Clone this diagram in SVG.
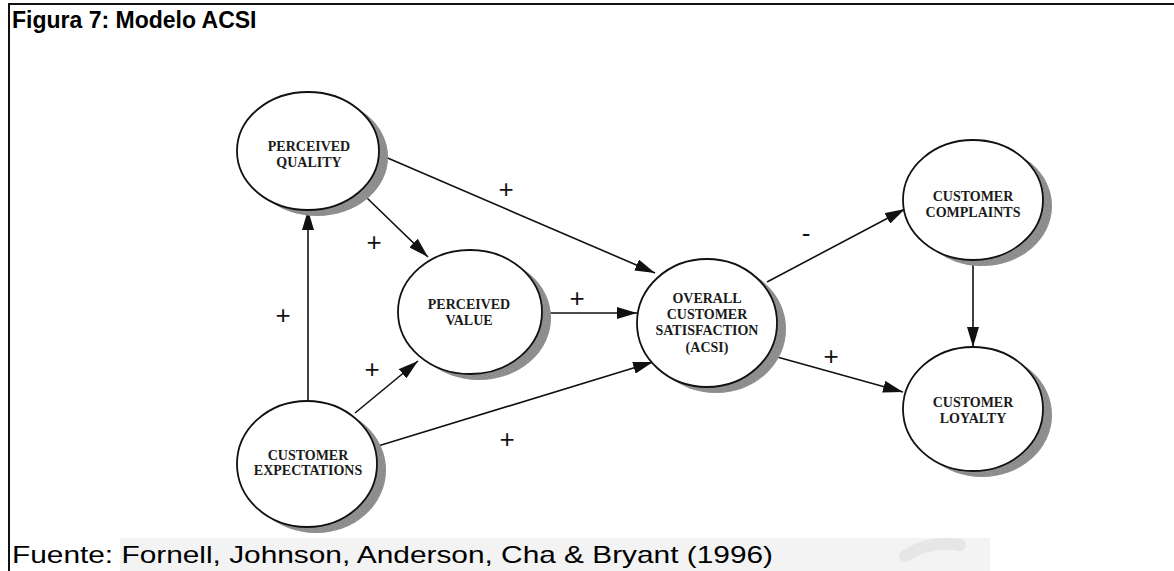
<svg xmlns="http://www.w3.org/2000/svg" width="1174" height="571" viewBox="0 0 1174 571">
  <defs>
    <style>
      .node { fill: #ffffff; stroke: #111111; stroke-width: 1.8; }
      .shade { fill: #7a7a7a; filter: url(#grain); }
      .label { font-family: "Liberation Serif", "Times New Roman", serif; font-weight: bold; font-size: 14px; fill: #1a1a1a; text-anchor: middle; }
      .edge { stroke: #111111; stroke-width: 1.6; fill: none; marker-end: url(#arrow); }
      .sign { font-family: "Liberation Sans", Arial, sans-serif; font-size: 26px; fill: #111111; text-anchor: middle; }
      .frame { stroke: #111111; stroke-width: 2; fill: none; }
    </style>
    <!-- stippled grey for the drop shadows -->
    <filter id="grain" x="-10%" y="-10%" width="120%" height="120%">
      <feTurbulence type="fractalNoise" baseFrequency="0.9" numOctaves="1" seed="3" result="noise"/>
      <feColorMatrix in="noise" type="matrix" values="0 0 0 0 0.45  0 0 0 0 0.45  0 0 0 0 0.45  0 0 0 0.6 0" result="dots"/>
      <feComposite in="dots" in2="SourceGraphic" operator="in" result="dotsIn"/>
      <feMerge>
        <feMergeNode in="SourceGraphic"/>
        <feMergeNode in="dotsIn"/>
      </feMerge>
    </filter>
    <marker id="arrow" markerUnits="userSpaceOnUse" markerWidth="20" markerHeight="12" refX="20" refY="6" orient="auto">
      <path d="M0,0 L20,6 L0,12 z" fill="#111111"/>
    </marker>
  </defs>

  <!-- page frame -->
  <rect x="0" y="0" width="1174" height="571" fill="#ffffff"/>
  <rect x="120" y="538" width="870" height="33" fill="#f3f3f3"/>
  <path d="M905,556 Q930,540 960,545" stroke="#e6e6e6" stroke-width="12" fill="none" stroke-linecap="round"/>
  <line class="frame" x1="8" y1="4" x2="1174" y2="4"/>
  <line class="frame" x1="9" y1="4" x2="9" y2="571"/>

  <text x="12" y="28" font-family="Liberation Sans, Arial, sans-serif" font-weight="bold" font-size="23" fill="#000">Figura 7: Modelo ACSI</text>
  <text x="12" y="563" font-family="Liberation Sans, Arial, sans-serif" font-size="24" fill="#000" textLength="761" lengthAdjust="spacingAndGlyphs">Fuente: Fornell, Johnson, Anderson, Cha &amp; Bryant (1996)</text>

  <!-- connectors -->
  <g id="connectors">
    <line class="edge" x1="383" y1="156" x2="655" y2="273"/>
    <line class="edge" x1="367" y1="198" x2="428" y2="257"/>
    <line class="edge" x1="308" y1="400" x2="308" y2="210"/>
    <line class="edge" x1="355" y1="413" x2="418" y2="361"/>
    <line class="edge" x1="378" y1="446" x2="653" y2="362"/>
    <line class="edge" x1="543" y1="313" x2="637" y2="313"/>
    <line class="edge" x1="767" y1="282" x2="905" y2="209"/>
    <line class="edge" x1="770" y1="355" x2="903" y2="392"/>
    <line class="edge" x1="973" y1="259" x2="973" y2="347"/>
    <text class="sign" x="506" y="198">+</text>
    <text class="sign" x="374" y="251">+</text>
    <text class="sign" x="283" y="324">+</text>
    <text class="sign" x="577" y="307">+</text>
    <text class="sign" x="372" y="378">+</text>
    <text class="sign" x="507" y="448">+</text>
    <text class="sign" x="831" y="365">+</text>
    <text class="sign" x="806" y="242" font-size="32">-</text>
  </g>

  <g id="perceived-quality">
    <ellipse class="shade" cx="317" cy="157" rx="71" ry="59"/>
    <ellipse class="node" cx="308" cy="151" rx="71" ry="59"/>
    <text class="label" x="309" y="151">PERCEIVED</text>
    <text class="label" x="309" y="167">QUALITY</text>
  </g>

  <g id="perceived-value">
    <ellipse class="shade" cx="479" cy="318" rx="72" ry="62"/>
    <ellipse class="node" cx="470" cy="312" rx="72" ry="62"/>
    <text class="label" x="469" y="309">PERCEIVED</text>
    <text class="label" x="469" y="325">VALUE</text>
  </g>

  <g id="overall-satisfaction">
    <ellipse class="shade" cx="716" cy="329" rx="70" ry="64"/>
    <ellipse class="node" cx="707" cy="323" rx="70" ry="64"/>
    <text class="label" x="707" y="303">OVERALL</text>
    <text class="label" x="707" y="319">CUSTOMER</text>
    <text class="label" x="707" y="335">SATISFACTION</text>
    <text class="label" x="707" y="352">(ACSI)</text>
  </g>

  <g id="customer-complaints">
    <ellipse class="shade" cx="982" cy="206" rx="70" ry="60"/>
    <ellipse class="node" cx="973" cy="200" rx="70" ry="60"/>
    <text class="label" x="973" y="201">CUSTOMER</text>
    <text class="label" x="973" y="217">COMPLAINTS</text>
  </g>

  <g id="customer-loyalty">
    <ellipse class="shade" cx="982" cy="415" rx="70" ry="62"/>
    <ellipse class="node" cx="973" cy="409" rx="70" ry="62"/>
    <text class="label" x="973" y="407">CUSTOMER</text>
    <text class="label" x="973" y="423">LOYALTY</text>
  </g>

  <g id="customer-expectations">
    <ellipse class="shade" cx="316" cy="470" rx="70" ry="63"/>
    <ellipse class="node" cx="307" cy="464" rx="70" ry="63"/>
    <text class="label" x="308" y="460">CUSTOMER</text>
    <text class="label" x="308" y="475">EXPECTATIONS</text>
  </g>
</svg>
